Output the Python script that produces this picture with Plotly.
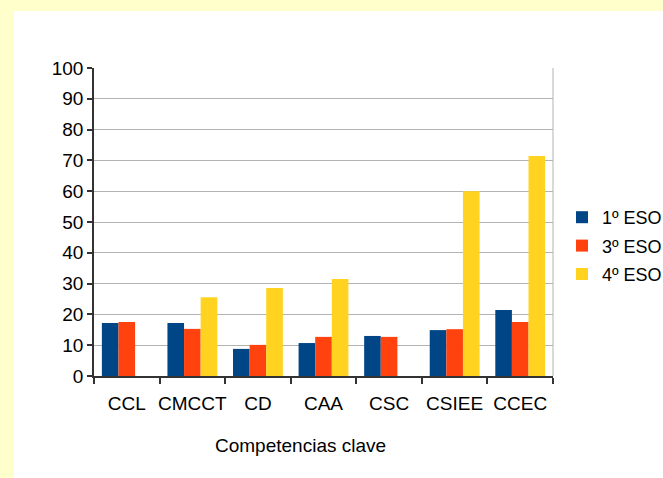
import plotly.graph_objects as go

categories = ["CCL", "CMCCT", "CD", "CAA", "CSC", "CSIEE", "CCEC"]
eso1 = [17.2, 17.2, 8.8, 10.7, 13.0, 14.9, 21.4]
eso3 = [17.5, 15.3, 10.1, 12.7, 12.7, 15.2, 17.5]
eso4 = [None, 25.6, 28.6, 31.5, None, 60.0, 71.4]
series_names = ["1º ESO", "3º ESO", "4º ESO"]
colors = ["#004586", "#FF420E", "#FFD320"]
y_ticks = list(range(0, 101, 10))

FONT = "Liberation Sans, Arial, sans-serif"

fig = go.Figure()
for i, (name, vals) in enumerate(zip(series_names, [eso1, eso3, eso4])):
    fig.add_trace(go.Bar(x=categories, y=vals, name=name, marker_color=colors[i],
                         marker_line_width=0, legendgroup=f"g{i}"))

W, H = 740, 478
ml, mt, mb = 94, 68, 102
pr = 553
mr = W - pr
pw, ph = pr - ml, H - mt - mb

def px_x(p):
    return (p - ml) / pw

def px_y(p):
    return (H - mb - p) / ph

fig.update_layout(
    width=W, height=H,
    margin=dict(l=ml, r=mr, t=mt, b=mb, pad=0),
    paper_bgcolor="#FFFFCC",
    plot_bgcolor="white",
    barmode="group", bargap=0.24, bargroupgap=0,
    font=dict(family=FONT, size=19, color="black"),
    showlegend=True,
    legend=dict(x=px_x(562), xanchor="left", y=px_y(246), yanchor="middle",
                bgcolor="rgba(0,0,0,0)", font=dict(size=18), tracegroupgap=2,
                itemclick=False),
    shapes=[
        dict(type="rect", xref="paper", yref="paper", x0=px_x(14), x1=px_x(W + 5),
             y0=px_y(H + 5), y1=px_y(11), fillcolor="white", line_width=0, layer="below"),
        dict(type="line", xref="paper", yref="paper", x0=1, x1=1, y0=0, y1=1,
             line=dict(color="#b3b3b3", width=1)),
    ],
    annotations=[
        dict(text="Competencias clave", xref="paper", yref="paper", x=px_x(300), y=px_y(445),
             xanchor="center", yanchor="middle", showarrow=False, font=dict(size=19)),
    ],
)
fig.update_xaxes(showline=True, linecolor="#333333", linewidth=1.5, ticks="outside",
                 tickson="boundaries", ticklen=6, tickcolor="#333333", tickwidth=1.5,
                 showgrid=False, tickfont=dict(size=19), tickangle=0, automargin=False,
                 ticklabelstandoff=9)
fig.update_yaxes(range=[0, 100], tickvals=y_ticks, showline=True, linecolor="#333333",
                 linewidth=1.5, ticks="outside", ticklen=5, tickcolor="#333333", tickwidth=1.5,
                 showgrid=True, gridcolor="#b3b3b3", gridwidth=1, zeroline=False,
                 tickfont=dict(size=19), automargin=False)

fig.write_html("out.html", config={"displayModeBar": False}, post_script=(
    "document.body.style.margin='0';document.body.style.overflow='hidden';"
    "document.documentElement.style.overflow='hidden';"))
